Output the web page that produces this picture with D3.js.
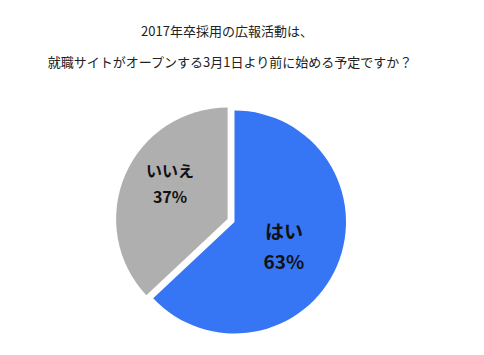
<!DOCTYPE html>
<html><head><meta charset="utf-8">
<script src="https://cdn.jsdelivr.net/npm/d3@7"></script>
<style>
html,body{margin:0;padding:0;background:#fff;}
svg{display:block;font-family:"Noto Sans CJK JP","Noto Sans",sans-serif;}
</style></head>
<body>
<script>
const titleLines = ["2017年卒採用の広報活動は、", "就職サイトがオープンする3月1日より前に始める予定ですか？"];
const categories = ["はい", "いいえ"];
const values = [63, 37];
const colors = ["#3675f3", "#afafaf"];

const W = 484, H = 355;
const svg = d3.select("body").append("svg").attr("width", W).attr("height", H);

svg.selectAll("text.title").data(titleLines).join("text")
  .attr("class", "title")
  .attr("x", (d, i) => i === 0 ? 227 : 230)
  .attr("y", (d, i) => 36 + i * 31)
  .attr("text-anchor", "middle")
  .attr("font-size", 13)
  .attr("fill", "#222")
  .text(d => d);

const cx = 234.5, cy = 222, r = 111.5;
const pie = d3.pie().sort(null).value(d => d.v).startAngle(0).endAngle(2 * Math.PI);
const data = pie(categories.map((c, i) => ({c, v: values[i], i})));
const arc = d3.arc().innerRadius(0).outerRadius(r);
const explode = [0, 7.5];
const labelR = [56, 66];
const labelShift = [[-2, 1], [3, -10]];
const labelSize = [19, 16];
const lineGap = [30, 26];

const g = svg.append("g").attr("transform", `translate(${cx},${cy})`);
const slices = g.selectAll("g.slice").data(data).join("g")
  .attr("class", "slice")
  .attr("transform", d => {
    const a = (d.startAngle + d.endAngle) / 2;
    const e = explode[d.data.i];
    return `translate(${e * Math.sin(a)},${-e * Math.cos(a)})`;
  });
slices.append("path").attr("d", arc).attr("fill", d => colors[d.data.i]);

slices.each(function(d) {
  const i = d.data.i;
  const la = d3.arc().innerRadius(labelR[i]).outerRadius(labelR[i]);
  const [x0, y0] = la.centroid(d);
  const x = x0 + labelShift[i][0], y = y0 + labelShift[i][1];
  const sel = d3.select(this);
  const lines = [d.data.c, d.data.v + "%"];
  sel.selectAll("text").data(lines).join("text")
    .attr("x", x)
    .attr("y", (t, k) => y + (k - 0.5) * lineGap[i])
    .attr("text-anchor", "middle")
    .attr("dominant-baseline", "central")
    .attr("font-size", labelSize[i])
    .attr("font-weight", "bold")
    .attr("fill", "#111")
    .text(t => t);
});
</script>
</body></html>
